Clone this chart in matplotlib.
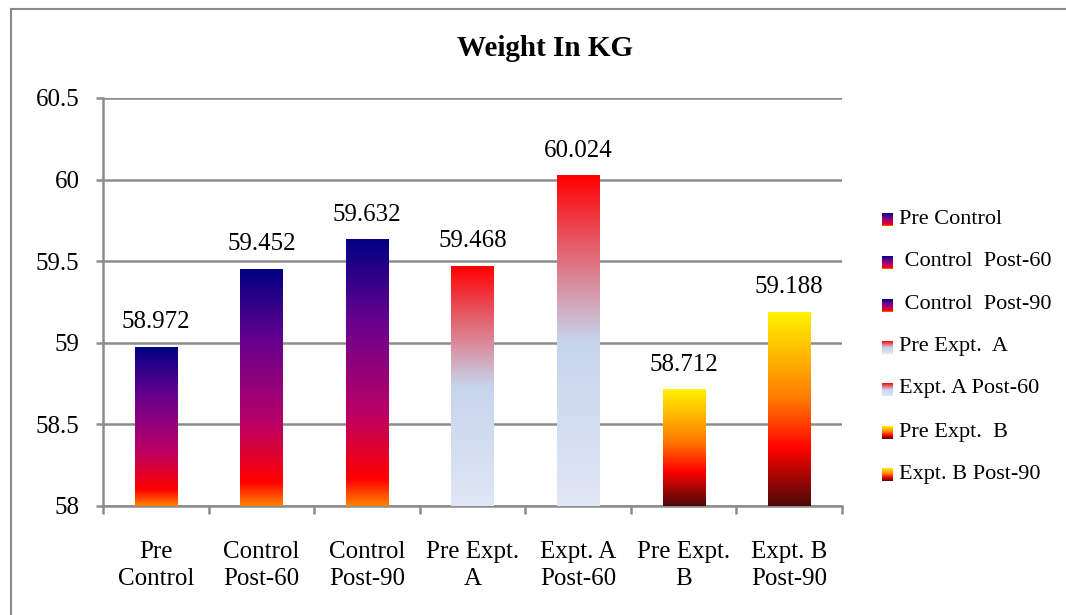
import numpy as np
import matplotlib
matplotlib.use("Agg")
import matplotlib.pyplot as plt
from matplotlib.colors import LinearSegmentedColormap
from matplotlib.patches import Rectangle
from matplotlib.ticker import FixedLocator

plt.rcParams['font.family'] = ['Liberation Serif', 'DejaVu Serif']

categories = ["Pre\nControl", "Control\nPost-60", "Control\nPost-90", "Pre Expt.\nA",
              "Expt. A\nPost-60", "Pre Expt.\nB", "Expt. B\nPost-90"]
legend_labels = ["Pre Control", " Control  Post-60", " Control  Post-90", "Pre Expt.  A",
                 "Expt. A Post-60", "Pre Expt.  B", "Expt. B Post-90"]
weights = [58.972, 59.452, 59.632, 59.468, 60.024, 58.712, 59.188]
value_labels = ["58.972", "59.452", "59.632", "59.468", "60.024", "58.712", "59.188"]
y_ticks = [58, 58.5, 59, 59.5, 60, 60.5]
y_tick_labels = ["58", "58.5", "59", "59.5", "60", "60.5"]

# gradient fills, stops listed bottom -> top
late_sunset = LinearSegmentedColormap.from_list(
    "late_sunset", [(0.0, "#FF8200"), (0.10, "#FF0000"), (0.35, "#BA0066"),
                    (0.70, "#66008F"), (1.0, "#000082")])
red_ice = LinearSegmentedColormap.from_list(
    "red_ice", [(0.0, "#E0E7F5"), (0.5, "#C6D4EC"), (0.62, "#D4A3B6"),
                (0.82, "#E8505C"), (1.0, "#FF0000")])
fire = LinearSegmentedColormap.from_list(
    "fire", [(0.0, "#4D0808"), (0.30, "#FF0300"), (0.55, "#FF7A00"), (1.0, "#FFF200")])
bar_cmaps = [late_sunset, late_sunset, late_sunset, red_ice, red_ice, fire, fire]

W, H = 1066, 615
fig = plt.figure(figsize=(W / 100, H / 100), dpi=100)
ax = fig.add_axes([103 / W, 1 - 506 / H, (842 - 103) / W, (506 - 98) / H])

grad = np.linspace(0, 1, 256).reshape(-1, 1)
base = y_ticks[0]
x = np.arange(len(categories))
bars = ax.bar(x, np.array(weights) - base, bottom=base, width=0.4,
              facecolor="none", edgecolor="none", zorder=3)
for b, cmap in zip(bars, bar_cmaps):
    bx, by, bw, bh = b.get_x(), b.get_y(), b.get_width(), b.get_height()
    ax.imshow(grad, cmap=cmap, origin="lower", aspect="auto",
              extent=[bx, bx + bw, by, by + bh], zorder=3, interpolation="bilinear")

for xi, v, txt in zip(x, weights, value_labels):
    ax.annotate(txt, (xi, v), xytext=(0, 25), textcoords="offset pixels",
                ha="center", va="center", fontsize=18, zorder=4)

ax.set_xlim(-0.5, len(categories) - 0.5)
ax.set_ylim(y_ticks[0], y_ticks[-1])
ax.set_yticks(y_ticks)
ax.set_yticklabels(y_tick_labels, fontsize=18)
ax.set_xticks(x)
ax.set_xticklabels(categories, fontsize=18, linespacing=1.32)
ax.xaxis.set_minor_locator(FixedLocator(np.arange(-0.5, len(categories), 1)))

grey = "#8C8C8C"
ax.grid(axis="y", color=grey, linewidth=1.8, zorder=0)
ax.set_axisbelow(True)
for s in ["top", "right"]:
    ax.spines[s].set_visible(False)
for s in ["left", "bottom"]:
    ax.spines[s].set_color(grey)
    ax.spines[s].set_linewidth(1.8)
ax.tick_params(axis="y", length=5, width=1.8, color=grey, pad=12)
ax.tick_params(axis="x", which="major", length=0, pad=25)
ax.tick_params(axis="x", which="minor", length=6, width=1.8, color=grey)

fig.text(545 / W, 1 - 48 / H, "Weight In KG", ha="center", va="center",
         fontsize=21, fontweight="bold")

# legend: gradient swatch plus label per series
leg_y = [219, 262, 305, 347, 389, 432, 474]
for yy, lab, cmap in zip(leg_y, legend_labels, bar_cmaps):
    sw = fig.add_axes([882 / W, 1 - (yy + 7) / H, 11 / W, 13 / H])
    sw.imshow(grad, cmap=cmap, origin="lower", aspect="auto", interpolation="bilinear")
    sw.set_axis_off()
    fig.text(899 / W, 1 - yy / H, lab, ha="left", va="center", fontsize=16)

fig.add_artist(Rectangle((11 / W, -0.1), 1.2, (1 - 8.5 / H) + 0.1,
                         transform=fig.transFigure, fill=False,
                         edgecolor="#8A8A8A", linewidth=1.5))

fig.savefig("out.png", dpi=100)
